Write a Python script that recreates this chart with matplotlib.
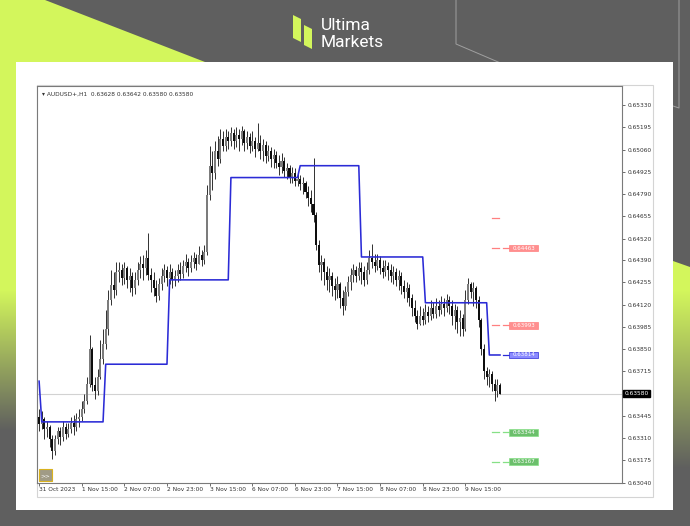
import numpy as np
import matplotlib
matplotlib.use("Agg")
import matplotlib.pyplot as plt
from matplotlib.patches import Polygon, Rectangle

W, H = 690, 526

# AUDUSD+ H1 bars, prices in 1e-5 units (open of a bar = close of the previous one)
first_open = 63438
closes = [
    63396, 63426, 63366, 63378, 63305, 63233, 63305, 63354, 63317, 63378,
    63336, 63366, 63402, 63378, 63426, 63438, 63486, 63534, 63637, 63848,
    63631, 63595, 63679, 63788, 63878, 63969, 64150, 64240, 64210, 64318,
    64330, 64282, 64342, 64270, 64294, 64222, 64270, 64330, 64367, 64342,
    64403, 64300, 64270, 64222, 64174, 64246, 64294, 64330, 64282, 64318,
    64270, 64294, 64330, 64306, 64355, 64379, 64342, 64379, 64403, 64367,
    64421, 64391, 64439, 64783, 64964, 64921, 65054, 65006, 65126, 65084,
    65138, 65114, 65163, 65114, 65150, 65126, 65175, 65102, 65138, 65084,
    65114, 65066, 65102, 65054, 65090, 65024, 65054, 65006, 65030, 64982,
    64958, 64994, 64933, 64946, 64897, 64921, 64873, 64885, 64849, 64861,
    64801, 64765, 64728, 64662, 64481, 64361, 64379, 64318, 64270, 64294,
    64234, 64210, 64246, 64162, 64113, 64198, 64258, 64300, 64330, 64294,
    64342, 64318, 64270, 64330, 64403, 64379, 64355, 64391, 64342, 64318,
    64355, 64330, 64294, 64318, 64270, 64294, 64234, 64198, 64222, 64162,
    64101, 64053, 64005, 64053, 64029, 64077, 64053, 64101, 64065, 64113,
    64089, 64125, 64101, 64150, 64113, 64053, 64089, 64017, 64041, 63969,
    64150, 64246, 64198, 64222, 64150, 64029, 63848, 63715, 63679, 63697,
    63637, 63595, 63631, 63580,
]
highs = [
    63486, 63474, 63438, 63414, 63390, 63329, 63329, 63378, 63378, 63414,
    63402, 63402, 63438, 63450, 63462, 63486, 63534, 63577, 63679, 63938,
    63860, 63679, 63727, 63908, 63969, 64089, 64210, 64330, 64318, 64379,
    64379, 64367, 64379, 64355, 64342, 64318, 64318, 64379, 64415, 64421,
    64451, 64554, 64342, 64318, 64270, 64282, 64342, 64367, 64355, 64367,
    64342, 64330, 64367, 64379, 64391, 64427, 64403, 64421, 64439, 64427,
    64475, 64451, 64481, 64843, 65084, 65054, 65114, 65144, 65187, 65175,
    65187, 65175, 65199, 65187, 65199, 65187, 65205, 65187, 65175, 65163,
    65175, 65138, 65223, 65150, 65126, 65114, 65090, 65078, 65066, 65054,
    65030, 65042, 65018, 64982, 64970, 64958, 64946, 64921, 64909, 64897,
    64873, 64837, 64813, 65012, 64680, 64511, 64421, 64403, 64355, 64342,
    64318, 64282, 64294, 64258, 64210, 64234, 64294, 64342, 64367, 64355,
    64379, 64379, 64355, 64379, 64451, 64487, 64427, 64427, 64415, 64391,
    64391, 64379, 64367, 64355, 64342, 64330, 64318, 64270, 64258, 64246,
    64186, 64150, 64089, 64113, 64101, 64125, 64113, 64150, 64137, 64162,
    64150, 64174, 64162, 64186, 64174, 64150, 64125, 64113, 64089, 64065,
    64210, 64282, 64258, 64258, 64234, 64174, 64041, 63878, 63740, 63727,
    63715, 63667, 63667, 63642,
]
lows = [
    63354, 63366, 63305, 63317, 63257, 63185, 63209, 63275, 63269, 63293,
    63305, 63317, 63342, 63329, 63354, 63378, 63414, 63462, 63516, 63619,
    63595, 63547, 63571, 63667, 63758, 63848, 63938, 64119, 64162, 64180,
    64258, 64240, 64246, 64222, 64198, 64174, 64186, 64240, 64282, 64270,
    64300, 64270, 64198, 64174, 64137, 64150, 64210, 64258, 64234, 64246,
    64222, 64234, 64258, 64270, 64282, 64318, 64294, 64318, 64342, 64330,
    64367, 64355, 64367, 64421, 64753, 64813, 64885, 64964, 64982, 65054,
    65054, 65066, 65084, 65066, 65078, 65054, 65090, 65054, 65066, 65042,
    65054, 65018, 65054, 65006, 64994, 64982, 64994, 64958, 64946, 64946,
    64909, 64921, 64897, 64885, 64861, 64861, 64837, 64837, 64813, 64789,
    64765, 64716, 64680, 64620, 64451, 64318, 64270, 64240, 64210, 64198,
    64174, 64150, 64162, 64101, 64059, 64089, 64174, 64210, 64258, 64258,
    64270, 64246, 64234, 64246, 64306, 64342, 64318, 64330, 64306, 64282,
    64294, 64270, 64258, 64246, 64234, 64210, 64186, 64162, 64137, 64113,
    64053, 64017, 63969, 63993, 63993, 64005, 64017, 64029, 64041, 64041,
    64053, 64065, 64053, 64077, 64065, 63993, 63969, 63945, 63932, 63932,
    63957, 64125, 64162, 64113, 64101, 63981, 63812, 63667, 63631, 63619,
    63595, 63534, 63559, 63580,
]

# daily pivot line: level of each day and how many H1 bars it covers
pivot_levels = [63655, 63408, 63758, 64270, 64891, 64963, 64409, 64131, 63814]
pivot_bars = [1, 24, 24, 23, 26, 23, 24, 24, 5]

# level markers drawn right of the last bar
level_prices = [0.64644, 0.64463, 0.63993, 0.63814, 0.63344, 0.63167]
level_labels = ["", "0.64463", "0.63993", "0.63814", "0.63344", "0.63167"]
level_kinds = ["res", "res", "res", "pivot", "sup", "sup"]

current_price = 0.63580
header = "\u25be AUDUSD+,H1  0.63628 0.63642 0.63580 0.63580"

price_ticks = [0.65330, 0.65195, 0.65060, 0.64925, 0.64790, 0.64655, 0.64520,
               0.64390, 0.64255, 0.64120, 0.63985, 0.63850, 0.63715, 0.63580,
               0.63445, 0.63310, 0.63175, 0.63040]
price_tick_labels = ["0.65330", "0.65195", "0.65060", "0.64925", "0.64790",
                     "0.64655", "0.64520", "0.64390", "0.64255", "0.64120",
                     "0.63985", "0.63850", "0.63715", "0.63580", "0.63445",
                     "0.63310", "0.63175", "0.63040"]
time_tick_bars = [0, 16, 32, 48, 64, 80, 96, 112, 128, 144, 160]
time_tick_labels = ["31 Oct 2023", "1 Nov 15:00", "2 Nov 07:00", "2 Nov 23:00",
                    "3 Nov 15:00", "6 Nov 07:00", "6 Nov 23:00", "7 Nov 15:00",
                    "8 Nov 07:00", "8 Nov 23:00", "9 Nov 15:00"]

GREY = "#5f5f5f"
LIME = "#d3f65c"

fig = plt.figure(figsize=(W / 100, H / 100), dpi=100)

# ---------------- background card (pixel coordinates) ----------------
bg = fig.add_axes([0, 0, 1, 1], zorder=0)
bg.set_xlim(0, W)
bg.set_ylim(H, 0)
bg.axis("off")
bg.add_patch(Rectangle((0, 0), W, H, fc=GREY, ec="none"))
bg.add_patch(Polygon([(0, 0), (45, 0), (205, 62), (0, 62)], closed=True, fc=LIME, ec="none"))


def strip(x0, x1, y_full, y_end, clip=None):
    # vertical lime -> grey fade
    t = np.clip((np.arange(H) - y_full) / (y_end - y_full), 0, 1)
    lime = np.array(matplotlib.colors.to_rgb(LIME))
    grey = np.array(matplotlib.colors.to_rgb(GREY))
    img = (lime[None, :] * (1 - t[:, None]) + grey[None, :] * t[:, None])[:, None, :]
    im = bg.imshow(img, extent=(x0, x1, H, 0), aspect="auto", zorder=1)
    if clip is not None:
        patch = Polygon(clip, closed=True, transform=bg.transData)
        im.set_clip_path(patch)


strip(0, 16, 290, 430)
strip(673, 690, 290, 468, clip=[(673, 261), (690, 267), (690, H), (673, H)])

# thin outline lines top right
bg.plot([456, 456, 545], [0, 44, 82], color="#a0a0a0", lw=0.7, zorder=2)
bg.plot([679, 679, 670], [0, 108, 105], color="#a0a0a0", lw=0.7, zorder=2)

# white panel and chart window
bg.add_patch(Rectangle((16, 62), 657, 448, fc="white", ec="none", zorder=3))
bg.add_patch(Rectangle((37, 85), 616, 412, fc="white", ec="#d4d4d4", lw=0.8, zorder=4))

# logo
bg.add_patch(Polygon([(293, 15), (301, 19), (301, 42), (293, 38)], closed=True, fc=LIME, ec="none", zorder=3))
bg.add_patch(Polygon([(304, 25), (312, 29), (312, 49), (304, 45)], closed=True, fc=LIME, ec="none", zorder=3))
bg.text(321, 30, "Ultima", color="white", fontsize=12.5, family="Roboto", va="baseline", zorder=3)
bg.text(321, 47, "Markets", color="white", fontsize=12.5, family="Roboto", va="baseline", zorder=3)

# ---------------- price chart ----------------
ax = fig.add_axes([37 / W, 1 - 482.5 / H, (622 - 37) / W, (482.5 - 85.5) / H], zorder=2)
ax.set_facecolor("white")

c = np.array(closes) / 1e5
h = np.array(highs) / 1e5
l = np.array(lows) / 1e5
o = np.concatenate([[first_open / 1e5], c[:-1]])
x = np.arange(len(c))
up = c >= o

ax.axhline(current_price, color="#d2d2d2", lw=0.8, zorder=1)
ax.vlines(x, l, h, color="#303030", lw=0.7, zorder=3)
ax.bar(x[up], (c - o)[up], bottom=o[up], width=0.78, color="#7c7c7c", lw=0, zorder=4)
ax.bar(x[~up], (o - c)[~up], bottom=c[~up], width=0.78, color="#0e0e0e", lw=0, zorder=4)

pivot = np.repeat(pivot_levels, pivot_bars) / 1e5
ax.plot(x, pivot, color="#2b2bd6", lw=1.15, zorder=5)

kind_style = {
    "res": ("#ff8080", "#ff8f8f"),
    "pivot": ("#2b2bd6", "#8a8aff"),
    "sup": ("#86e086", "#6cbf6c"),
}
half_h = 3.4 * 6.07e-5
for p, lab, kind in zip(level_prices, level_labels, level_kinds):
    line_c, box_c = kind_style[kind]
    if kind != "pivot":
        ax.plot([170.0, 172.6], [p, p], color=line_c, lw=0.9, zorder=5)
    if lab:
        ax.plot([174.1, 176.4], [p, p], color=line_c, lw=0.9, zorder=5)
        ax.add_patch(Rectangle((176.4, p - half_h), 10.9, 2 * half_h,
                               fc=box_c, ec=line_c, lw=0.5, zorder=6))
        ax.text(181.85, p, lab, ha="center", va="center", fontsize=4,
                color="white", zorder=7)

ax.set_xlim(-0.79, 218.8)
ax.set_ylim(0.63040, 0.654498)

ax.yaxis.tick_right()
ax.set_yticks(price_ticks)
ax.set_yticklabels([t if t != "0.63580" else "" for t in price_tick_labels])
ax.tick_params(axis="y", direction="out", length=2.5, width=0.6, colors="#555555",
               labelcolor="#333333", labelsize=4.2, pad=1.5)
ax.text(1.0043, current_price, "0.63580", transform=ax.get_yaxis_transform(),
        fontsize=4.2, color="white", ha="left", va="center",
        bbox=dict(boxstyle="square,pad=0.25", fc="black", ec="black"))

ax.set_xticks(time_tick_bars)
ax.set_xticklabels(time_tick_labels)
plt.setp(ax.get_xticklabels(), ha="left")
ax.tick_params(axis="x", direction="out", length=2, width=0.6, colors="#555555",
               labelcolor="#333333", labelsize=4.2, pad=1.5)

for side in ["left", "top", "right", "bottom"]:
    ax.spines[side].set_color("#7a7a7a")
    ax.spines[side].set_linewidth(0.8)

# header and scroll button
ax.text(0.009, 0.985, header, transform=ax.transAxes, fontsize=4.2, color="#333333",
        ha="left", va="top")
ax.add_patch(Rectangle((0.003, 0.003), 0.022, 0.03, transform=ax.transAxes,
                       fc="#a09b86", ec="#d9b21f", lw=0.8, zorder=8))
ax.text(0.014, 0.018, ">>", transform=ax.transAxes, fontsize=4.2, color="white",
        ha="center", va="center", zorder=9)

fig.savefig("out.png", dpi=100)
